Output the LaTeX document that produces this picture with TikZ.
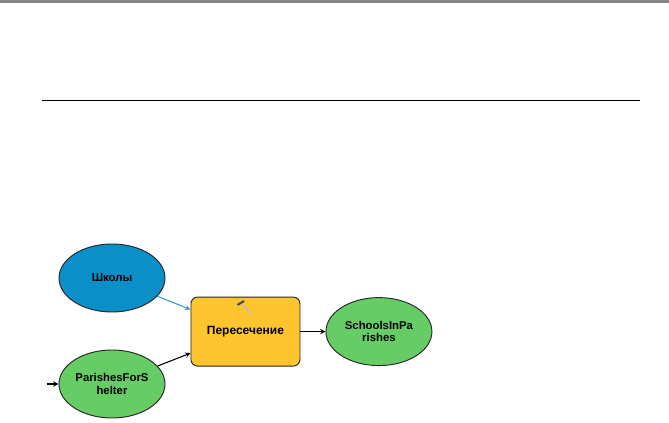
\documentclass[tikz,border=0pt]{standalone}
\usepackage{fontspec}
\setmainfont{Liberation Sans}
\usepackage{tikz}
\usetikzlibrary{shapes.geometric, arrows}
\definecolor{topbar}{HTML}{868686}
\definecolor{datablue}{HTML}{0A8FC8}
\definecolor{datagreen}{HTML}{66CC66}
\definecolor{toolorange}{HTML}{FFC52E}
\definecolor{linkblue}{HTML}{3A9AD0}
\tikzstyle{dataset} = [ellipse, 
minimum width=79.5pt, 
minimum height=51pt,
inner sep=0pt,
text centered, 
font=\bfseries\fontsize{8.5}{10}\selectfont,
line width=0.7pt,
draw=black!85]
\tikzstyle{source} = [dataset, fill=datablue]
\tikzstyle{output} = [dataset, fill=datagreen]
\tikzstyle{tool} = [rectangle, rounded corners=5pt,
minimum width=81.75pt, 
minimum height=51.75pt,
text centered, 
font=\bfseries\fontsize{9}{10}\selectfont,
line width=0.7pt,
draw=black!85, 
fill=toolorange]
\tikzstyle{arrow} = [thick,->,>=stealth]

\begin{document}
\begin{tikzpicture}[node distance=79.5pt]

\useasboundingbox (0,0) rectangle (501.75pt,-317.25pt);
\fill [white] (0,0) rectangle (501.75pt,-317.25pt);
\fill [topbar] (0,0) rectangle (501.75pt,-2.5pt);
\draw [black, line width=0.6pt] (31.5pt,-75pt) -- (480pt,-75pt);

\node (shkoly) [source] at (84pt,-208.5pt) {Школы};
\node (parishes) [output, below of=shkoly] {\shortstack{ParishesForS\\helter}};
\node (peresech) [tool, right of=shkoly, xshift=20.6pt, yshift=-40.2pt] {Пересечение};
\node (schools) [output, right of=peresech, xshift=20.6pt] {\shortstack{SchoolsInPa\\rishes}};
\coordinate [left of=parishes, xshift=30.5pt] (inflow);

\draw [arrow, linkblue] (shkoly) -- (peresech);
\draw [arrow] (parishes) -- (peresech);
\draw [arrow] (peresech) -- (schools);
\draw [arrow] (inflow) -- (parishes);

%hammer on the tool
\draw [line width=1.8pt, toolorange!55!gray!70!white] ([xshift=-3pt,yshift=21pt]peresech.center) -- ([xshift=5pt,yshift=13pt]peresech.center);
\draw [line width=1.6pt, gray!60!black] ([xshift=-6pt,yshift=20pt]peresech.center) -- ([xshift=-1pt,yshift=23pt]peresech.center);

\end{tikzpicture}
\end{document}
